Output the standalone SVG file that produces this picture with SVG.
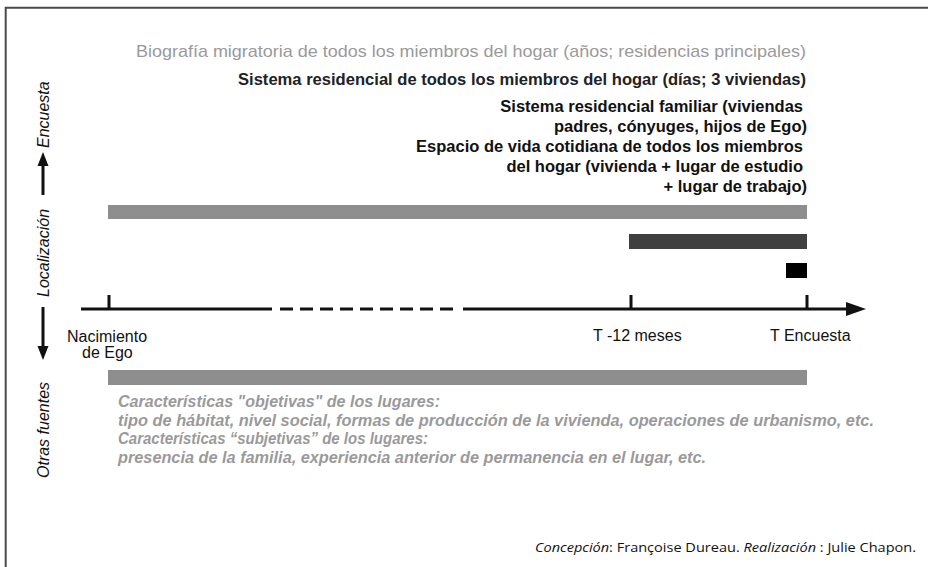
<svg xmlns="http://www.w3.org/2000/svg" width="928" height="567" viewBox="0 0 928 567">
<style>
text{font-family:"Liberation Sans",Arial,sans-serif}
.t1{font-size:17px;fill:#9a9a9a}
.t2{font-size:17px;font-weight:bold;fill:#222}
.b{font-size:16.5px;font-weight:bold;fill:#111;text-anchor:end}
.lab{font-size:16px;fill:#111}
.side{font-size:16px;font-style:italic;fill:#111}
.it{font-size:16px;font-style:italic;font-weight:bold;fill:#9a9a9a}
.cr{font-family:"Open Sans","Noto Sans",sans-serif;font-size:13px;fill:#111}
.ax{stroke:#111;stroke-width:3;fill:none}
</style>
<path d="M5.7,567V7.7H928" fill="none" stroke="#4a4a4a" stroke-width="2"/>

<g id="labels-top">
<text class="t1" x="806" y="57" text-anchor="end" textLength="670" lengthAdjust="spacingAndGlyphs">Biografía migratoria de todos los miembros del hogar (años; residencias principales)</text>
<text class="t2" x="806" y="85" text-anchor="end" textLength="568" lengthAdjust="spacingAndGlyphs">Sistema residencial de todos los miembros del hogar (días; 3 viviendas)</text>
<text class="b" x="803" y="112">Sistema residencial familiar (viviendas</text>
<text class="b" x="807" y="132">padres, cónyuges, hijos de Ego)</text>
<text class="b" x="803" y="152">Espacio de vida cotidiana de todos los miembros</text>
<text class="b" x="803" y="172">del hogar (vivienda + lugar de estudio</text>
<text class="b" x="807" y="192">+ lugar de trabajo)</text>
</g>

<g id="bars">
<rect id="bar-biografia" x="108" y="205" width="699" height="14" fill="#8e8e8e"/>
<rect id="bar-sistema" x="629" y="234" width="178" height="15" fill="#404040"/>
<rect id="bar-espacio" x="786" y="263" width="21" height="15" fill="#000"/>
<rect id="bar-otras" x="108" y="370" width="699" height="15" fill="#8e8e8e"/>
</g>

<g id="connectors">
<path class="ax" d="M81,309H272"/>
<path class="ax" d="M280,309H456" stroke-dasharray="13 7"/>
<path class="ax" d="M463,309H850"/>
<polygon points="846,302 866,309 846,316" fill="#111"/>
<path class="ax" d="M109,295V309M631,295V309M807,295V309"/>
<path d="M43,195V164" stroke="#111" stroke-width="3"/>
<polygon points="37.5,166 43,152 48.5,166" fill="#111"/>
<path d="M43,307V348" stroke="#111" stroke-width="3"/>
<polygon points="37.5,346 43,360 48.5,346" fill="#111"/>
</g>

<g id="timeline-labels">
<text class="lab" x="67" y="342">Nacimiento</text>
<text class="lab" x="82" y="358">de Ego</text>
<text class="lab" x="593" y="341">T -12 meses</text>
<text class="lab" x="770" y="341">T Encuesta</text>
</g>

<g id="side-labels">
<text class="side" transform="translate(49,148) rotate(-90)">Encuesta</text>
<text class="side" transform="translate(49,297) rotate(-90)">Localización</text>
<text class="side" transform="translate(49,478) rotate(-90)">Otras fuentes</text>
</g>

<g id="otras-fuentes-text">
<text class="it" x="118" y="407" textLength="322" lengthAdjust="spacingAndGlyphs">Características "objetivas" de los lugares:</text>
<text class="it" x="118" y="426" textLength="756" lengthAdjust="spacingAndGlyphs">tipo de hábitat, nivel social, formas de producción de la vivienda, operaciones de urbanismo, etc.</text>
<text class="it" x="118" y="444" textLength="310" lengthAdjust="spacingAndGlyphs">Características “subjetivas” de los lugares:</text>
<text class="it" x="118" y="463" textLength="588" lengthAdjust="spacingAndGlyphs">presencia de la familia, experiencia anterior de permanencia en el lugar, etc.</text>
</g>

<g id="credit">
<text class="cr" x="916" y="552" text-anchor="end" textLength="381" lengthAdjust="spacingAndGlyphs"><tspan font-style="italic">Concepción</tspan>: Françoise Dureau. <tspan font-style="italic">Realización</tspan> : Julie Chapon.</text>
</g>
</svg>
